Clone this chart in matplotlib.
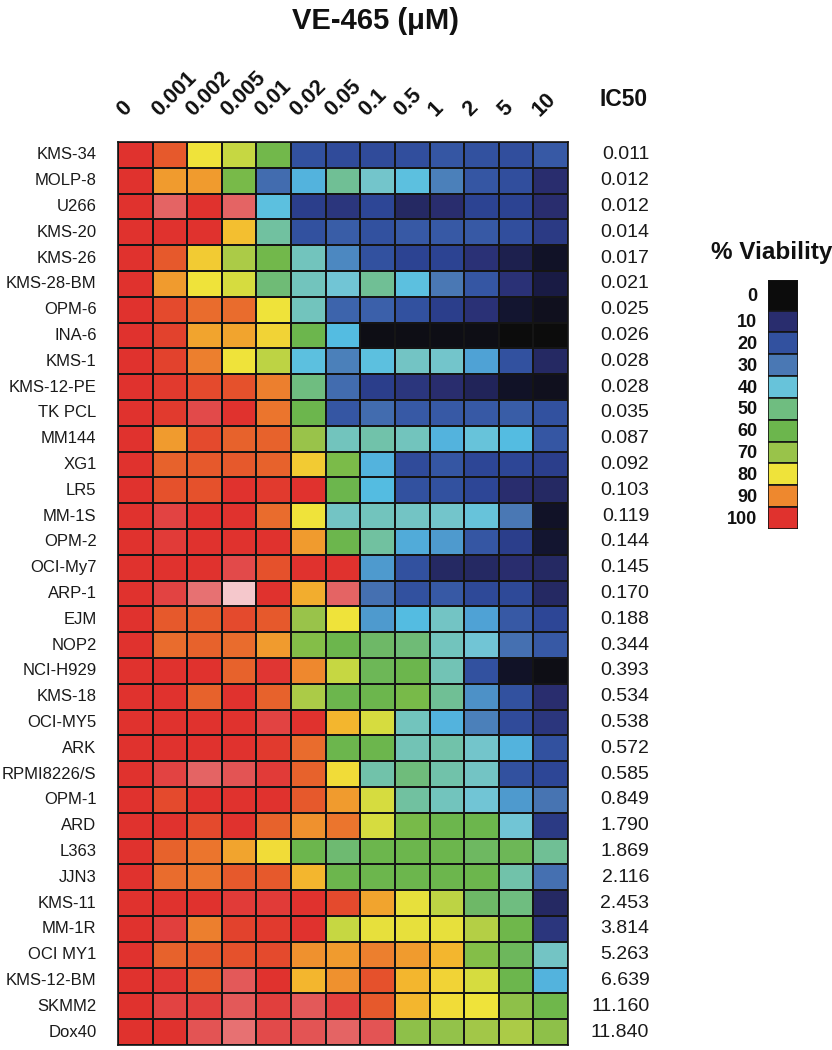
import matplotlib
matplotlib.use("Agg")
import matplotlib.pyplot as plt
import numpy as np
from matplotlib.colors import LinearSegmentedColormap

plt.rcParams['font.family'] = ['Liberation Sans', 'DejaVu Sans']

concentrations = ["0", "0.001", "0.002", "0.005", "0.01", "0.02", "0.05",
                  "0.1", "0.5", "1", "2", "5", "10"]

cell_lines = ["KMS-34", "MOLP-8", "U266", "KMS-20", "KMS-26", "KMS-28-BM", "OPM-6",
              "INA-6", "KMS-1", "KMS-12-PE", "TK PCL", "MM144", "XG1", "LR5",
              "MM-1S", "OPM-2", "OCI-My7", "ARP-1", "EJM", "NOP2", "NCI-H929",
              "KMS-18", "OCI-MY5", "ARK", "RPMI8226/S", "OPM-1", "ARD", "L363",
              "JJN3", "KMS-11", "MM-1R", "OCI MY1", "KMS-12-BM", "SKMM2", "Dox40"]

ic50 = ["0.011", "0.012", "0.012", "0.014", "0.017", "0.021", "0.025", "0.026",
        "0.028", "0.028", "0.035", "0.087", "0.092", "0.103", "0.119", "0.144",
        "0.145", "0.170", "0.188", "0.344", "0.393", "0.534", "0.538", "0.572",
        "0.585", "0.849", "1.790", "1.869", "2.116", "2.453", "3.814", "5.263",
        "6.639", "11.160", "11.840"]

viability = [
    [100, 95, 80, 75, 62, 20, 18, 18, 19, 21, 20, 19, 22],
    [100, 88, 88, 63, 27, 37, 48, 42, 39, 31, 21, 19, 10],
    [100, 110, 100, 110, 39, 14, 12, 16, 9, 10, 15, 15, 10],
    [100, 100, 100, 84, 47, 20, 23, 20, 22, 22, 22, 19, 13],
    [100, 95, 83, 72, 62, 44, 32, 20, 15, 15, 11, 7, 3],
    [100, 88, 80, 77, 52, 44, 41, 48, 39, 30, 21, 11, 6],
    [100, 97, 93, 93, 80, 44, 25, 24, 20, 14, 11, 4, 2],
    [100, 98, 87, 87, 82, 60, 38, 1, 1, 1, 1, 0, 0],
    [100, 98, 91, 80, 74, 39, 31, 39, 43, 42, 35, 20, 9],
    [100, 99, 97, 96, 91, 50, 27, 14, 12, 10, 8, 3, 2],
    [100, 99, 105, 100, 92, 60, 21, 27, 22, 22, 22, 23, 20],
    [100, 88, 97, 94, 94, 70, 44, 46, 44, 37, 40, 38, 21],
    [100, 94, 95, 95, 94, 83, 64, 37, 18, 21, 16, 16, 14],
    [100, 96, 96, 100, 99, 100, 60, 38, 20, 20, 16, 10, 9],
    [100, 104, 100, 100, 93, 80, 43, 44, 43, 42, 40, 30, 3],
    [100, 102, 100, 100, 100, 88, 60, 47, 36, 34, 21, 14, 4],
    [100, 100, 100, 105, 96, 100, 100, 34, 20, 9, 9, 10, 9],
    [100, 104, 112, 125, 100, 86, 110, 28, 20, 22, 17, 17, 9],
    [100, 95, 95, 97, 95, 70, 80, 34, 38, 43, 35, 22, 16],
    [100, 93, 94, 93, 88, 66, 60, 55, 52, 44, 41, 28, 22],
    [100, 100, 100, 94, 101, 90, 75, 58, 60, 45, 20, 3, 1],
    [100, 100, 94, 100, 94, 72, 60, 60, 63, 48, 33, 20, 10],
    [100, 100, 100, 100, 104, 100, 85, 77, 44, 37, 31, 18, 12],
    [100, 100, 100, 100, 99, 93, 60, 60, 45, 46, 42, 37, 20],
    [100, 104, 110, 107, 102, 94, 81, 46, 51, 46, 43, 20, 16],
    [100, 97, 100, 100, 100, 95, 88, 77, 47, 44, 41, 34, 29],
    [100, 100, 97, 100, 94, 89, 92, 77, 63, 60, 60, 41, 13],
    [100, 94, 92, 87, 81, 60, 53, 60, 60, 60, 56, 58, 48],
    [100, 93, 92, 95, 95, 85, 60, 60, 60, 60, 60, 46, 28],
    [100, 100, 100, 102, 102, 100, 97, 87, 79, 74, 55, 50, 9],
    [100, 103, 91, 98, 99, 100, 75, 79, 79, 79, 73, 61, 12],
    [100, 94, 95, 96, 97, 89, 88, 91, 88, 85, 66, 57, 43],
    [100, 101, 95, 108, 100, 85, 89, 96, 85, 82, 77, 60, 37],
    [100, 104, 103, 108, 103, 108, 103, 95, 85, 81, 80, 68, 61],
    [100, 100, 107, 112, 105, 107, 110, 107, 68, 69, 71, 72, 68],
]

legend_levels = [0, 10, 20, 30, 40, 50, 60, 70, 80, 90, 100]

# colour scale
anchors = [
    (0, "#0c0c0c"), (5, "#15173a"), (10, "#2a2e70"), (15, "#2c4494"),
    (20, "#3352a0"), (25, "#3d64ac"), (30, "#4a78b4"), (35, "#4fa4d6"),
    (38, "#55bee2"), (41, "#74c6d4"), (45, "#72c3b6"), (50, "#6fbd80"),
    (55, "#6eb866"), (60, "#6cb64c"), (65, "#7ebc48"), (70, "#98c34a"),
    (75, "#c6d742"), (80, "#f0e33a"), (85, "#f3b92e"), (90, "#ee8a2e"),
    (95, "#e65a2c"), (100, "#e0322e"), (105, "#e24848"), (110, "#e46262"),
    (125, "#f5c8cc"),
]
VMAX = 125.0
cmap = LinearSegmentedColormap.from_list(
    "viab", [(v / VMAX, c) for v, c in anchors])

W, H = 832, 1050
fig = plt.figure(figsize=(W / 100, H / 100), dpi=100)

hm_left, hm_right, hm_top, hm_bot = 118, 568, 142, 1045
ax = fig.add_axes([hm_left / W, 1 - hm_bot / H,
                   (hm_right - hm_left) / W, (hm_bot - hm_top) / H])
data = np.array(viability, dtype=float)
nrow, ncol = data.shape
ax.pcolormesh(np.arange(ncol + 1), np.arange(nrow + 1), data, cmap=cmap,
              vmin=0, vmax=VMAX, edgecolors="#151515", linewidth=1.3)
ax.set_xlim(0, ncol)
ax.set_ylim(nrow, 0)
ax.set_xticks([])
ax.set_yticks([])
for s in ax.spines.values():
    s.set_linewidth(1.2)
    s.set_color("#151515")

for i, name in enumerate(cell_lines):
    ax.text(-0.62, i + 0.5, name, ha="right", va="center", fontsize=12,
            color="#1a1a1a", clip_on=False)
    ax.text(15.35, i + 0.5, ic50[i], ha="right", va="center", fontsize=14,
            color="#1a1a1a", clip_on=False)

for j, lab in enumerate(concentrations):
    ax.text(j + 0.28, -0.85, lab, rotation=45, rotation_mode="anchor",
            ha="left", va="bottom", fontsize=15.5, fontweight="bold",
            color="#111111", clip_on=False)

ax.text(14.6, -1.2, "IC50", ha="center", va="bottom", fontsize=16.5,
        fontweight="bold", color="#111111", clip_on=False)

fig.text(375 / W, 1 - 21 / H, "VE-465 (\u03bcM)", ha="center", va="center",
         fontsize=21, fontweight="bold", color="#111111")

# legend
lg_left, lg_right, lg_top, lg_bot = 768, 798, 280, 529
lax = fig.add_axes([lg_left / W, 1 - lg_bot / H,
                    (lg_right - lg_left) / W, (lg_bot - lg_top) / H])
heights = [1.4] + [1.0] * (len(legend_levels) - 1)
bottoms = np.concatenate([[0], np.cumsum(heights)[:-1]])
lax.bar([0.5] * len(legend_levels), heights, bottom=bottoms, width=1.0,
        color=[cmap(v / VMAX) for v in legend_levels],
        edgecolor="#151515", linewidth=1.2)
lax.set_xlim(0, 1)
lax.set_ylim(sum(heights), 0)
lax.axis("off")
for v, b, h in zip(legend_levels, bottoms, heights):
    lax.text(-0.35, b + h / 2 + 0.05, str(v), ha="right", va="center",
             fontsize=13, fontweight="bold", color="#111111", clip_on=False)
fig.text(772 / W, 1 - 253 / H, "% Viability", ha="center", va="center",
         fontsize=17.5, fontweight="bold", color="#111111")

fig.savefig("out.png", dpi=100, facecolor="white")
